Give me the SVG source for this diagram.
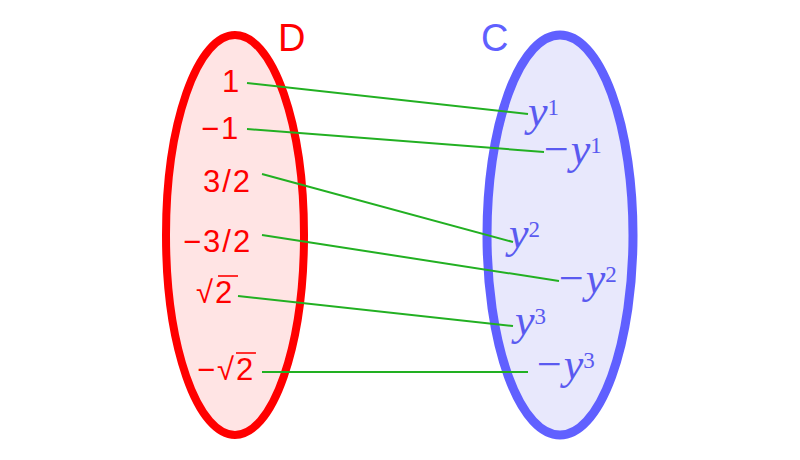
<svg xmlns="http://www.w3.org/2000/svg" width="800" height="460" viewBox="0 0 800 460">
<style>
.setD{fill:#ffe4e4;stroke:#ff0000;stroke-width:8}
.setC{fill:#e8e8fc;stroke:#6060ff;stroke-width:9}
.ttl{font-family:"Liberation Sans",Arial,sans-serif;font-size:38px}
.dl{font-family:"Liberation Sans",Arial,sans-serif;font-size:31px;fill:#ff0000;letter-spacing:2px}
.cl{font-family:"Liberation Serif","Times New Roman",serif;font-size:44px;font-style:italic;fill:#5a5af0}
.sup{font-size:23px;font-style:normal}
.vinc{stroke:#ff0000;stroke-width:1.6}
.conn{stroke:#22b022;stroke-width:2;fill:none}
</style>
<rect width="800" height="460" fill="#ffffff"/>
<g id="set-D">
<ellipse class="setD" cx="235" cy="235" rx="69" ry="200"/>
<text class="ttl" x="278" y="51" fill="#ff0000">D</text>
</g>
<g id="set-C">
<ellipse class="setC" cx="560" cy="235" rx="73" ry="200"/>
<text class="ttl" x="481" y="51" fill="#6060ff">C</text>
</g>
<g id="connectors">
<line class="conn" x1="247" y1="83" x2="528" y2="114"/>
<line class="conn" x1="247" y1="129" x2="544" y2="152"/>
<line class="conn" x1="262" y1="174" x2="513" y2="242"/>
<line class="conn" x1="262" y1="235" x2="559" y2="281"/>
<line class="conn" x1="238" y1="296" x2="513" y2="326"/>
<line class="conn" x1="262" y1="372" x2="528" y2="372"/>
</g>
<g id="d-1"><text class="dl" x="222" y="92">1</text></g>
<g id="d-neg1"><text class="dl" x="201" y="139">−1</text></g>
<g id="d-3half"><text class="dl" x="203" y="192">3/2</text></g>
<g id="d-neg3half"><text class="dl" x="183" y="252">−3/2</text></g>
<g id="d-sqrt2"><text class="dl" x="196" y="303">√2</text><line class="vinc" x1="218" y1="276" x2="238" y2="276"/></g>
<g id="d-negsqrt2"><text class="dl" x="197" y="380">−√2</text><line class="vinc" x1="236" y1="353" x2="256" y2="353"/></g>
<g id="c-y1"><text class="cl" x="528" y="126">y<tspan class="sup" dy="-11">1</tspan></text></g>
<g id="c-negy1"><text class="cl" x="541" y="164">−y<tspan class="sup" dy="-11">1</tspan></text></g>
<g id="c-y2"><text class="cl" x="509" y="248">y<tspan class="sup" dy="-11">2</tspan></text></g>
<g id="c-negy2"><text class="cl" x="556" y="293">−y<tspan class="sup" dy="-11">2</tspan></text></g>
<g id="c-y3"><text class="cl" x="515" y="335">y<tspan class="sup" dy="-11">3</tspan></text></g>
<g id="c-negy3"><text class="cl" x="534" y="379">−y<tspan class="sup" dy="-11">3</tspan></text></g>
</svg>
